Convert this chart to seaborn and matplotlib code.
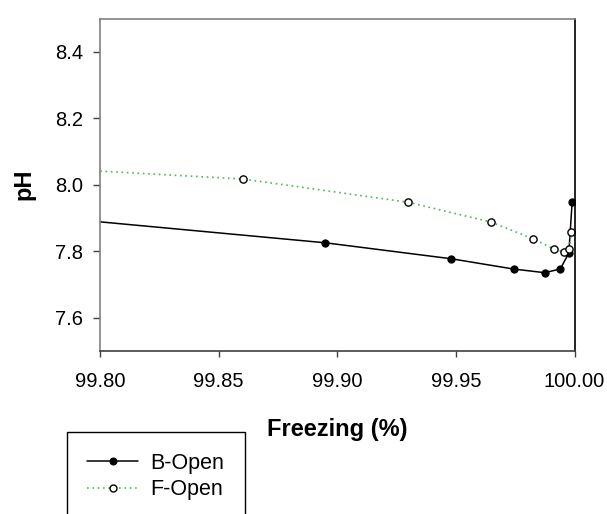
import matplotlib
matplotlib.use("Agg")
import matplotlib.pyplot as plt
import seaborn as sns
import pandas as pd

# Data
b_freezing = [99.60, 99.895, 99.948, 99.9743, 99.9874, 99.9940, 99.9976, 99.9990]
b_ph = [8.021, 7.825, 7.777, 7.746, 7.735, 7.746, 7.794, 7.947]
f_freezing = [99.60, 99.8604, 99.930, 99.965, 99.9825, 99.9912, 99.9955, 99.9978, 99.9987]
f_ph = [8.12, 8.017, 7.947, 7.887, 7.837, 7.807, 7.797, 7.807, 7.858]
series_names = ["B-Open", "F-Open"]
x_ticks = [99.80, 99.85, 99.90, 99.95, 100.00]
y_ticks = [7.6, 7.8, 8.0, 8.2, 8.4]

sns.set_theme(style="white")
plt.rcParams["font.family"] = ["Liberation Sans", "DejaVu Sans"]
plt.rcParams["text.color"] = "black"
plt.rcParams["axes.labelcolor"] = "black"
plt.rcParams["xtick.color"] = "black"
plt.rcParams["ytick.color"] = "black"

df_b = pd.DataFrame({"Freezing": b_freezing, "pH": b_ph})
df_f = pd.DataFrame({"Freezing": f_freezing, "pH": f_ph})

fig = plt.figure(figsize=(6.07, 5.14), dpi=100)
ax = fig.add_axes([100/607, 1 - 350.7/514, 474.5/607, 332/514])

sns.lineplot(data=df_b, x="Freezing", y="pH", ax=ax, sort=False, estimator=None,
             color="black", linewidth=1.1, marker="o", markersize=5.2,
             markerfacecolor="black", markeredgecolor="black", label=series_names[0])
sns.lineplot(data=df_f, x="Freezing", y="pH", ax=ax, sort=False, estimator=None,
             color="#4fb84f", linewidth=1.2, linestyle=(0, (1, 2.2)), marker="o",
             markersize=5.2, markerfacecolor="white", markeredgecolor="black",
             markeredgewidth=1.0, label=series_names[1])

ax.set_xlim(99.80, 100.00)
ax.set_ylim(7.5, 8.5)
ax.set_xticks(x_ticks)
ax.set_xticklabels([f"{v:.2f}" for v in x_ticks])
ax.set_yticks(y_ticks)
ax.set_yticklabels([f"{v:.1f}" for v in y_ticks])

ax.tick_params(axis="x", direction="out", length=4, width=1, color="#404040",
               labelsize=14.5, pad=11, bottom=True)
ax.tick_params(axis="y", direction="out", length=5, width=1, color="#404040",
               labelsize=14.5, pad=7, left=True)

for side, col in [("left", "#808080"), ("top", "#808080"), ("right", "black"), ("bottom", "#404040")]:
    ax.spines[side].set_color(col)
    ax.spines[side].set_linewidth(1.2)
    ax.spines[side].set_visible(True)

ax.set_xlabel("Freezing (%)", fontsize=17, fontweight="bold", labelpad=20)
ax.set_ylabel("pH", fontsize=17, fontweight="bold", labelpad=14)
ax.grid(False)

leg = ax.legend(loc="upper left", bbox_to_anchor=(67/607, 1 - 432.3/514),
                bbox_transform=fig.transFigure, fontsize=15.5, frameon=True,
                fancybox=False, edgecolor="black", framealpha=1,
                handlelength=2.33, handletextpad=0.6, borderpad=0.95,
                labelspacing=0.25, numpoints=1, borderaxespad=0)
leg.get_frame().set_linewidth(1.0)
for h in leg.get_lines():
    h.set_markersize(5)

fig.savefig("out.png", dpi=100)
